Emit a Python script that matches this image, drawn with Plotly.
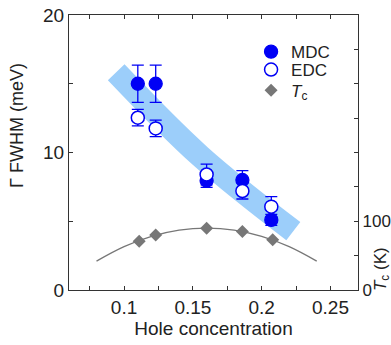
import plotly.graph_objects as go

# ---- data ----
doping = [0.110, 0.123, 0.160, 0.186, 0.207]
mdc_fwhm = [15.0, 15.0, 7.95, 8.0, 5.1]
mdc_err = [1.35, 1.35, 0.48, 0.68, 0.4]
edc_fwhm = [12.53, 11.75, 8.4, 7.2, 6.06]
edc_err = [0.6, 0.6, 0.76, 0.58, 0.73]
tc_doping = [0.111, 0.123, 0.160, 0.186, 0.208]
tc_values = [71, 80, 90, 85, 73]
# dome curve
dome_x = [0.080, 0.100, 0.120, 0.140, 0.160, 0.180, 0.200, 0.220, 0.240]
dome_tc = [42, 63, 78, 87, 90, 87, 78, 63, 42]
# guide band centre line
band_x = [0.0943, 0.1553, 0.2230]
band_y = [15.84, 9.75, 4.28]

y2_tickvals = [0, 100]
y2_ticktext = ["0", "100"]

BLUE = "#0000f5"
GRAY = "#777777"
BAND = "#9ccefa"
AX = "#333333"
FONT = "Liberation Sans"

fig = go.Figure()

fig.add_trace(go.Scatter(x=band_x, y=band_y, mode="lines",
                         line=dict(color=BAND, width=23, shape="spline"),
                         showlegend=False, hoverinfo="skip"))

fig.add_trace(go.Scatter(x=doping, y=mdc_fwhm, mode="markers", name="MDC",
                         legend="legend",
                         marker=dict(symbol="circle", size=13, color=BLUE,
                                     line=dict(color=BLUE, width=1.3)),
                         error_y=dict(type="data", array=mdc_err, color=BLUE,
                                      thickness=1.3, width=6)))

fig.add_trace(go.Scatter(x=doping, y=edc_fwhm, mode="markers", name="EDC",
                         legend="legend2",
                         marker=dict(symbol="circle", size=13, color="white",
                                     line=dict(color=BLUE, width=1.5)),
                         error_y=dict(type="data", array=edc_err, color=BLUE,
                                      thickness=1.3, width=6)))

fig.add_trace(go.Scatter(x=dome_x, y=dome_tc, mode="lines", yaxis="y2",
                         line=dict(color=GRAY, width=1.3, shape="spline"),
                         showlegend=False, hoverinfo="skip"))

fig.add_trace(go.Scatter(x=tc_doping, y=tc_values, mode="markers", yaxis="y2",
                         name="<i>T</i><sub>c</sub>", legend="legend3",
                         marker=dict(symbol="diamond", size=10, color=GRAY)))

leg_common = dict(xanchor="left", yanchor="middle", bgcolor="rgba(0,0,0,0)",
                  font=dict(size=17), itemwidth=30)
tick_common = dict(ticks="inside", ticklen=4, tickcolor=AX, tickwidth=1.2,
                   showline=True, linecolor=AX, linewidth=1.3,
                   showgrid=False, zeroline=False, automargin=False)

fig.update_layout(
    width=391, height=345,
    margin=dict(l=69, r=33, t=15, b=55, autoexpand=False),
    paper_bgcolor="white", plot_bgcolor="white",
    font=dict(family=FONT, size=18, color="#222222"),
    showlegend=True,
    legend=dict(x=0.63, y=0.865, **leg_common),
    legend2=dict(x=0.63, y=0.80, **leg_common),
    legend3=dict(x=0.63, y=0.725, **leg_common),
    xaxis=dict(range=[0.06, 0.27], tick0=0.1, dtick=0.05, mirror="ticks",
               minor=dict(tick0=0.1, dtick=0.025, ticks="inside", ticklen=4,
                          tickcolor=AX, tickwidth=1.2, showgrid=False),
               tickfont=dict(size=19),
               title=dict(text="Hole concentration", font=dict(size=19), standoff=3),
               **tick_common),
    yaxis=dict(range=[0, 20], tick0=0, dtick=10, mirror=True,
               minor=dict(tick0=0, dtick=5, ticks="inside", ticklen=4,
                          tickcolor=AX, tickwidth=1.2, showgrid=False),
               tickfont=dict(size=19),
               **tick_common),
    yaxis2=dict(range=[0, 400], tickvals=y2_tickvals, ticktext=y2_ticktext,
                overlaying="y", side="right",
                minor=dict(tick0=0, dtick=50, ticks="inside", ticklen=4,
                           tickcolor=AX, tickwidth=1.2, showgrid=False),
                tickfont=dict(size=17),
                **tick_common),
    annotations=[
        dict(text="Γ FWHM (meV)", xref="paper", yref="paper",
             x=-0.18, y=0.60, textangle=-90, showarrow=False,
             font=dict(size=18), xanchor="center", yanchor="middle"),
        dict(text="<i>T</i><sub>c</sub> (K)", xref="paper", yref="paper",
             x=1.083, y=0.076, textangle=-90, showarrow=False,
             font=dict(size=17), xanchor="center", yanchor="middle"),
    ],
)

fig.write_html("out.html")
